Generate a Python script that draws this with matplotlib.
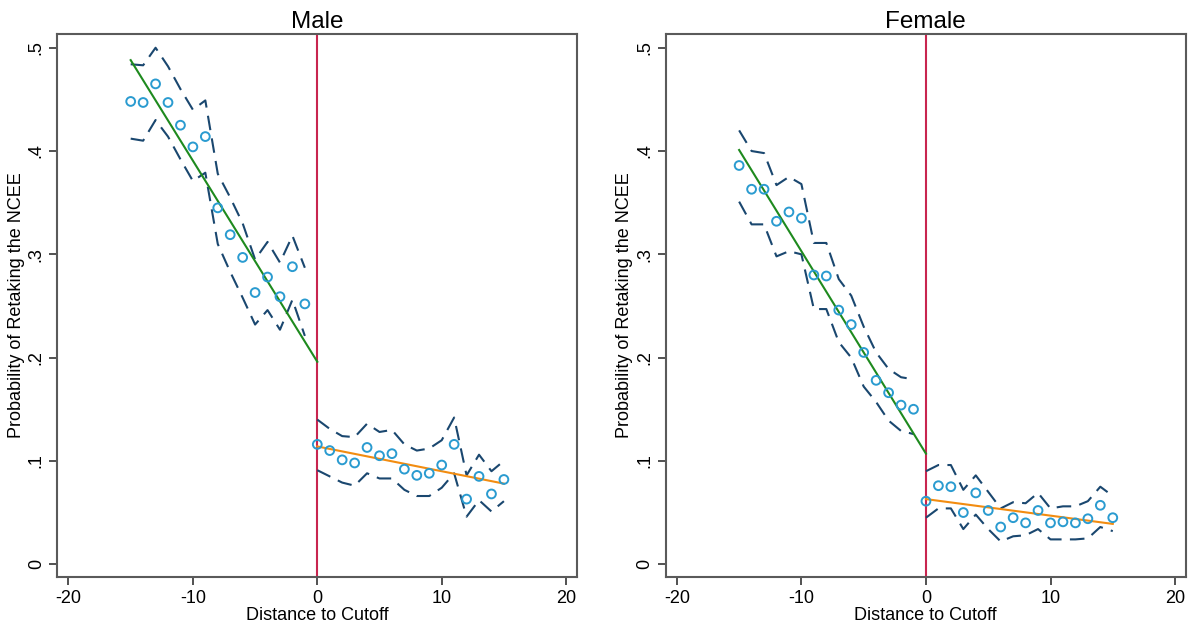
import matplotlib
matplotlib.use("Agg")
import matplotlib.pyplot as plt
import numpy as np

plt.rcParams['font.family'] = ['Liberation Sans', 'DejaVu Sans']
plt.rcParams['axes.unicode_minus'] = False

# distance bins
x_left = list(range(-15, 0))
x_right = list(range(0, 16))

# Male
male_pts_l = [.448, .447, .465, .447, .425, .404, .414, .345, .319, .297, .263, .278, .259, .288, .252]
male_up_l = [.484, .483, .500, .482, .460, .440, .449, .378, .355, .330, .295, .312, .292, .318, .287]
male_lo_l = [.412, .410, .430, .414, .392, .371, .379, .310, .283, .258, .232, .246, .227, .256, .221]
male_pts_r = [.116, .110, .101, .098, .113, .105, .107, .092, .086, .088, .096, .116, .063, .085, .068, .082]
male_up_r = [.140, .131, .124, .123, .136, .128, .130, .116, .110, .112, .120, .142, .086, .106, .090, .100]
male_lo_r = [.091, .085, .079, .076, .088, .083, .083, .072, .066, .066, .074, .088, .046, .062, .051, .061]
male_fit_l = [.488, .196]
male_fit_r = [.114, .078]

# Female
fem_pts_l = [.386, .363, .363, .332, .341, .335, .280, .279, .246, .232, .205, .178, .166, .154, .150]
fem_up_l = [.420, .400, .398, .367, .375, .368, .311, .311, .276, .260, .230, .205, .189, .181, .179]
fem_lo_l = [.351, .329, .329, .298, .303, .300, .247, .247, .215, .200, .172, .157, .139, .129, .126]
fem_pts_r = [.061, .076, .075, .050, .069, .052, .036, .045, .040, .052, .040, .041, .040, .044, .057, .045]
fem_up_r = [.090, .096, .096, .072, .086, .070, .054, .060, .059, .069, .054, .056, .056, .061, .075, .066]
fem_lo_r = [.045, .054, .054, .034, .048, .034, .022, .027, .028, .034, .024, .024, .024, .025, .036, .032]
fem_fit_l = [.401, .107]
fem_fit_r = [.063, .039]

panels = [
    ("Male", male_pts_l, male_up_l, male_lo_l, male_pts_r, male_up_r, male_lo_r, male_fit_l, male_fit_r),
    ("Female", fem_pts_l, fem_up_l, fem_lo_l, fem_pts_r, fem_up_r, fem_lo_r, fem_fit_l, fem_fit_r),
]

navy = '#1a476f'
dot = '#2a9bd0'
green = '#1e8a1e'
orange = '#f28c10'
red = '#c8254f'
frame = '#5a5a5a'

fig = plt.figure(figsize=(11.91, 6.31), dpi=100)
rects = [[0.0481, 0.0851, 0.4361, 0.8615], [0.5589, 0.0851, 0.4366, 0.8615]]

for rect, p in zip(rects, panels):
    title, pl, ul, ll, pr, ur, lr, fl, fr = p
    ax = fig.add_axes(rect)
    ax.axvline(0, color=red, lw=1.5, zorder=1)
    for xs, up, lo in [(x_left, ul, ll), (x_right, ur, lr)]:
        ax.plot(xs, up, color=navy, lw=1.5, ls=(0, (7, 4)), zorder=2)
        ax.plot(xs, lo, color=navy, lw=1.5, ls=(0, (7, 4)), zorder=2)
    ax.plot([x_left[0], 0], fl, color=green, lw=1.5, zorder=3)
    ax.plot([0, x_right[-1]], fr, color=orange, lw=1.5, zorder=3)
    ax.scatter(x_left, pl, s=40, facecolors='none', edgecolors=dot, linewidths=1.4, zorder=4)
    ax.scatter(x_right, pr, s=40, facecolors='none', edgecolors=dot, linewidths=1.4, zorder=4)

    ax.set_xlim(-20.9, 20.85)
    ax.set_ylim(-0.0127, 0.5136)
    ax.set_xticks([-20, -10, 0, 10, 20])
    ax.set_yticks([0, .1, .2, .3, .4, .5])
    ax.set_yticklabels(['0', '.1', '.2', '.3', '.4', '.5'], rotation=90, va='center')
    ax.tick_params(labelsize=13, length=6, width=1.2, color='#333333', pad=3)
    for s in ax.spines.values():
        s.set_color(frame)
        s.set_linewidth(1.5)
    ax.set_title(title, fontsize=17.5, pad=4)
    ax.set_xlabel("Distance to Cutoff", fontsize=13, labelpad=0)
    ax.set_ylabel("Probability of Retaking the NCEE", fontsize=13, labelpad=2)

fig.savefig("out.png", dpi=100)
